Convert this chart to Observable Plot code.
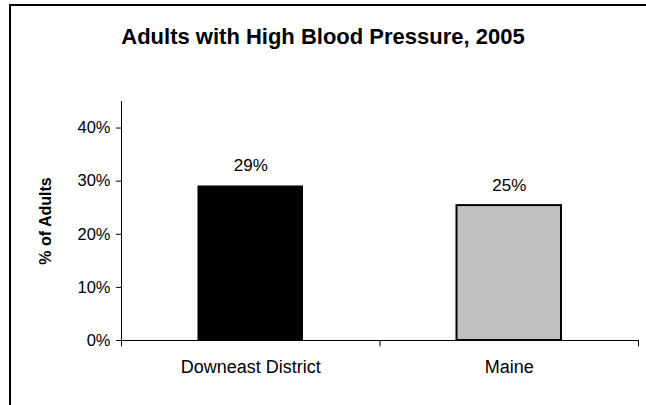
<!DOCTYPE html>
<html>
<head>
<meta charset="utf-8">
<script src="https://cdn.jsdelivr.net/npm/d3@7"></script>
<script src="https://cdn.jsdelivr.net/npm/@observablehq/plot@0.6"></script>
<style>
  html, body { margin: 0; padding: 0; background: #fff; overflow: hidden; width: 646px; height: 405px; }
  #wrap { position: relative; width: 646px; height: 405px; font-family: Arial, "Liberation Sans", sans-serif; }
  #frame { position: absolute; left: 9px; top: 4px; width: 700px; height: 500px; border-left: 2px solid #000; border-top: 2px solid #000; box-sizing: border-box; }
  #title { position: absolute; left: 0; width: 646px; top: 24px; text-align: center; font-weight: bold; font-size: 22px; color: #000; }
  #chart { position: absolute; left: 0; top: 0; }
</style>
</head>
<body>
<div id="wrap">
  <div id="frame"></div>
  <div id="chart"></div>
  <div id="title">Adults with High Blood Pressure, 2005</div>
</div>
<script>
const categories = ["Downeast District", "Maine"];
const values = [0.29, 0.254];
const valueLabels = ["29%", "25%"];
const barColors = ["#000000", "#c0c0c0"];
const barStrokeWidths = [1, 2];
const yTicks = [0, 0.1, 0.2, 0.3, 0.4];

const data = categories.map((c, i) => ({
  category: c, value: values[i], label: valueLabels[i], color: barColors[i], sw: barStrokeWidths[i], i
}));

const chart = Plot.plot({
  width: 646,
  height: 405,
  marginLeft: 121,
  marginRight: 8,
  marginTop: 101,
  marginBottom: 65,
  style: { fontFamily: "Arial, 'Liberation Sans', sans-serif", background: "transparent" },
  x: { domain: [0, categories.length], axis: null },
  y: { domain: [0, 0.45], axis: null },
  marks: [
    Plot.rectY(data.filter(d => d.sw === 1), {
      x1: d => d.i, x2: d => d.i + 1, y1: 0, y2: "value",
      fill: "color", stroke: "#000", strokeWidth: 1,
      insetLeft: 77, insetRight: 77
    }),
    Plot.rectY(data.filter(d => d.sw === 2), {
      x1: d => d.i, x2: d => d.i + 1, y1: 0, y2: "value",
      fill: "color", stroke: "#000", strokeWidth: 2,
      insetLeft: 77, insetRight: 77
    }),
    Plot.text(data, {
      x: d => d.i + 0.5, y: "value", text: "label",
      lineAnchor: "bottom", dy: -15, fontSize: 17, fill: "#000"
    }),
    Plot.axisY(yTicks, {
      tickFormat: d => Math.round(d * 100) + "%", tickSize: 5, tickPadding: 6,
      fontSize: 16.5, color: "#000", stroke: "#000", label: null
    }),
    Plot.ruleX([0], { y1: -0.012, y2: 0.45, stroke: "#000", strokeWidth: 1 }),
    Plot.ruleY([0], { x1: 0, x2: categories.length, stroke: "#000", strokeWidth: 1.2 }),
    Plot.ruleX(d3.range(1, categories.length + 1), { x: d => d, y1: 0, y2: -0.012, stroke: "#000" }),
    Plot.text(data, {
      x: d => d.i + 0.5, y: 0, text: "category",
      lineAnchor: "top", dy: 20, fontSize: 18, fill: "#000"
    }),
    Plot.text(["% of Adults"], {
      frameAnchor: "left", dx: -76, rotate: -90, text: d => d, textAnchor: "middle",
      fontSize: 16, fontWeight: "bold", fill: "#000"
    })
  ]
});
document.getElementById("chart").appendChild(chart);
</script>
</body>
</html>
